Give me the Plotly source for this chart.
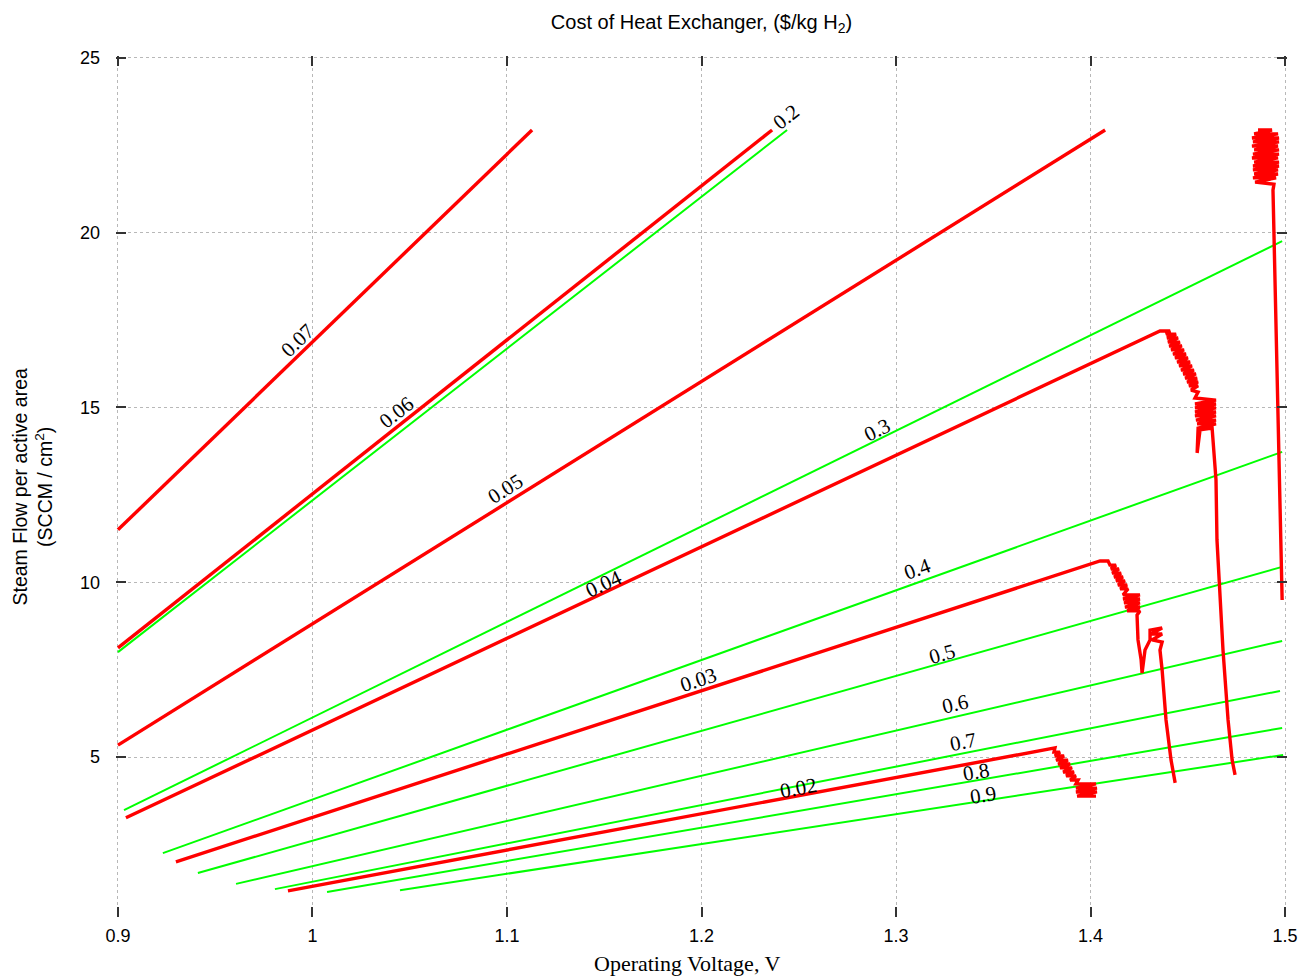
import plotly.graph_objects as go

# ---- axis ticks ----
x_tickvals = [0.9, 1.0, 1.1, 1.2, 1.3, 1.4, 1.5]
x_ticktext = ["0.9", "1", "1.1", "1.2", "1.3", "1.4", "1.5"]
y_tickvals = [5, 10, 15, 20, 25]
y_ticktext = ["5", "10", "15", "20", "25"]

# ---- red contours (cost of heat exchanger) ----
red_007_x = [0.9, 1.1129]
red_007_y = [11.50, 22.94]
red_006_x = [0.9, 1.2363]
red_006_y = [8.12, 22.94]
red_005_x = [0.9, 1.4075]
red_005_y = [5.34, 22.94]
red_004_x = [0.9041, 1.4357, 1.4409,
             1.4388, 1.4440, 1.4393, 1.4450, 1.4398, 1.4460, 1.4404, 1.4470, 1.4414, 1.4481,
             1.4424, 1.4491, 1.4434, 1.4501, 1.4445, 1.4512, 1.4455, 1.4522, 1.4465, 1.4532,
             1.4476, 1.4542, 1.4486, 1.4548, 1.4496, 1.4553, 1.4506, 1.4553, 1.4517, 1.4553,
             1.4537, 1.4645, 1.4537, 1.4645, 1.4537, 1.4645, 1.4537, 1.4645, 1.4537, 1.4645,
             1.4542, 1.4645, 1.4548, 1.4645, 1.4553,
             1.4548, 1.4563, 1.4625, 1.4635, 1.4645, 1.4650, 1.4666, 1.4681, 1.4707, 1.4728, 1.4743]
red_004_y = [3.26, 17.19, 17.19,
             17.10, 17.10, 16.99, 16.99, 16.87, 16.87, 16.76, 16.76, 16.65, 16.65,
             16.53, 16.53, 16.42, 16.42, 16.30, 16.30, 16.19, 16.19, 16.07, 16.07,
             15.96, 15.96, 15.84, 15.84, 15.73, 15.73, 15.62, 15.62, 15.50, 15.44,
             15.27, 15.21, 15.10, 15.10, 14.99, 14.99, 14.87, 14.87, 14.76, 14.76,
             14.64, 14.64, 14.53, 14.53, 14.41,
             13.70, 14.36, 14.41, 13.78, 12.93, 11.21, 9.49, 8.06, 6.06, 4.91, 4.49]
red_003_x = [0.9298, 1.4049, 1.4090,
             1.4100, 1.4131, 1.4105, 1.4146, 1.4111, 1.4157, 1.4121, 1.4167, 1.4131, 1.4177,
             1.4141, 1.4188, 1.4152, 1.4193, 1.4167, 1.4254, 1.4167, 1.4254, 1.4172, 1.4254,
             1.4177, 1.4254, 1.4188, 1.4254,
             1.4239, 1.4244, 1.4260, 1.4265, 1.4280, 1.4306, 1.4306, 1.4368, 1.4311, 1.4368,
             1.4316, 1.4368, 1.4357, 1.4368, 1.4388, 1.4414, 1.4435]
red_003_y = [2.00, 10.61, 10.61,
             10.49, 10.49, 10.38, 10.38, 10.26, 10.26, 10.15, 10.15, 10.04, 10.04,
             9.92, 9.92, 9.81, 9.81, 9.64, 9.64, 9.52, 9.52, 9.41, 9.41,
             9.29, 9.29, 9.18, 9.18,
             9.06, 8.35, 7.78, 7.40, 8.06, 8.35, 8.63, 8.69, 8.52, 8.52,
             8.35, 8.29, 8.06, 7.49, 6.06, 4.91, 4.26]
red_002_x = [0.9874, 1.3802, 1.3817,
             1.3812, 1.3843, 1.3817, 1.3864, 1.3823, 1.3884, 1.3833, 1.3895, 1.3843, 1.3905,
             1.3859, 1.3915, 1.3874, 1.3925, 1.3895, 1.3936, 1.3925, 1.4028, 1.3925, 1.4033,
             1.3925, 1.4033, 1.3931, 1.4028]
red_002_y = [1.17, 5.26, 5.26,
             5.14, 5.14, 5.03, 5.03, 4.91, 4.91, 4.80, 4.80, 4.69, 4.69,
             4.57, 4.57, 4.46, 4.46, 4.34, 4.34, 4.23, 4.23, 4.11, 4.11,
             4.00, 4.00, 3.88, 3.88]
red_edge_x = [1.4861, 1.4933, 1.4841, 1.4964, 1.4830, 1.4969, 1.4835, 1.4969, 1.4830, 1.4964,
              1.4841, 1.4969, 1.4835, 1.4969, 1.4830, 1.4964, 1.4841, 1.4969, 1.4835, 1.4969,
              1.4835, 1.4964, 1.4841, 1.4964, 1.4835, 1.4954, 1.4846, 1.4943,
              1.4938, 1.4943, 1.4954, 1.4964, 1.4974, 1.4985, 1.4985]
red_edge_y = [22.94, 22.94, 22.83, 22.83, 22.71, 22.71, 22.60, 22.60, 22.48, 22.48,
              22.37, 22.37, 22.25, 22.25, 22.14, 22.14, 22.02, 22.02, 21.91, 21.91,
              21.80, 21.80, 21.68, 21.68, 21.57, 21.57, 21.45, 21.39,
              21.22, 19.99, 18.08, 14.93, 12.93, 10.15, 9.49]

# ---- green contours ----
green_02_x = [0.9, 1.2440]
green_02_y = [8.00, 22.94]
green_03_x = [0.9031, 1.4985]
green_03_y = [3.48, 19.76]
green_04_x = [0.9231, 1.4985]
green_04_y = [2.25, 13.73]
green_05_x = [0.9411, 1.4985]
green_05_y = [1.68, 10.44]
green_06_x = [0.9607, 1.4985]
green_06_y = [1.37, 8.32]
green_07_x = [0.9807, 1.4974]
green_07_y = [1.22, 6.89]
green_08_x = [1.0075, 1.4985]
green_08_y = [1.14, 5.83]
green_09_x = [1.0450, 1.4990]
green_09_y = [1.19, 5.06]

# ---- contour labels ----
label_text = ["0.07", "0.06", "0.2", "0.05", "0.3", "0.04", "0.4", "0.03",
              "0.5", "0.6", "0.7", "0.02", "0.8", "0.9"]
label_x = [0.9925, 1.0434, 1.2434, 1.0990, 1.2902, 1.1494, 1.3108, 1.1982,
           1.3237, 1.3303, 1.3344, 1.2501, 1.3411, 1.3447]
label_y = [16.93, 14.87, 23.31, 12.67, 14.36, 9.95, 10.38, 7.20,
           7.95, 6.52, 5.43, 4.11, 4.57, 3.91]
label_angle = [-44, -38, -38, -32, -26, -25, -20, -18, -16, -13, -11, -10.6, -9.7, -8.7]

red_series = [(red_007_x, red_007_y), (red_006_x, red_006_y), (red_005_x, red_005_y),
              (red_004_x, red_004_y), (red_003_x, red_003_y), (red_002_x, red_002_y),
              (red_edge_x, red_edge_y)]
green_series = [(green_02_x, green_02_y), (green_03_x, green_03_y), (green_04_x, green_04_y),
                (green_05_x, green_05_y), (green_06_x, green_06_y), (green_07_x, green_07_y),
                (green_08_x, green_08_y), (green_09_x, green_09_y)]

fig = go.Figure()
for gx, gy in green_series:
    fig.add_trace(go.Scatter(x=gx, y=gy, mode="lines",
                             line=dict(color="#00ff00", width=2), hoverinfo="skip"))
for rx, ry in red_series:
    fig.add_trace(go.Scatter(x=rx, y=ry, mode="lines",
                             line=dict(color="#ff0000", width=3.4), hoverinfo="skip"))

serif = "Liberation Serif, Times New Roman, serif"
sans = "Liberation Sans, Arial, sans-serif"

annotations = []
for t, lx, ly, a in zip(label_text, label_x, label_y, label_angle):
    annotations.append(dict(x=lx, y=ly, xref="x", yref="y", text=t, showarrow=False,
                            textangle=a, font=dict(family=serif, size=21, color="black"),
                            xanchor="center", yanchor="middle"))

annotations.append(dict(x=0, y=0.5, xref="paper", yref="paper", xshift=-84,
                        text="Steam Flow per active area<br>(SCCM / cm<sup>2</sup>)",
                        showarrow=False, textangle=-90,
                        font=dict(family=sans, size=19.5, color="black"),
                        xanchor="center", yanchor="middle"))
annotations.append(dict(x=0.4876, y=0, xref="paper", yref="paper", yshift=-46,
                        text="Operating Voltage, V", showarrow=False,
                        font=dict(family=serif, size=22, color="black"),
                        xanchor="center", yanchor="middle"))

fig.update_layout(
    width=1303, height=979, autosize=False,
    margin=dict(l=116, r=16, t=56, b=62),
    paper_bgcolor="white", plot_bgcolor="white",
    showlegend=False,
    title=dict(text="Cost of Heat Exchanger, ($/kg H<sub>2</sub>)",
               x=0.5, xref="paper", y=1 - 22 / 979, yref="container",
               xanchor="center", yanchor="middle",
               font=dict(family=sans, size=20, color="black")),
    annotations=annotations,
)
axis_common = dict(showgrid=True, gridcolor="#b8b8b8", griddash="dot", gridwidth=1,
                   zeroline=False, showline=False, ticks="inside", ticklen=10,
                   tickwidth=1.5, tickcolor="#333333", mirror="ticks", automargin=False,
                   tickfont=dict(family=sans, size=18, color="black"))
fig.update_xaxes(range=[0.899, 1.501], tickvals=x_tickvals, ticktext=x_ticktext,
                 ticklabelstandoff=6, **axis_common)
fig.update_yaxes(range=[0.422, 25.057], tickvals=y_tickvals, ticktext=y_ticktext,
                 ticklabelstandoff=15, **axis_common)

fig.write_html("out.html")
